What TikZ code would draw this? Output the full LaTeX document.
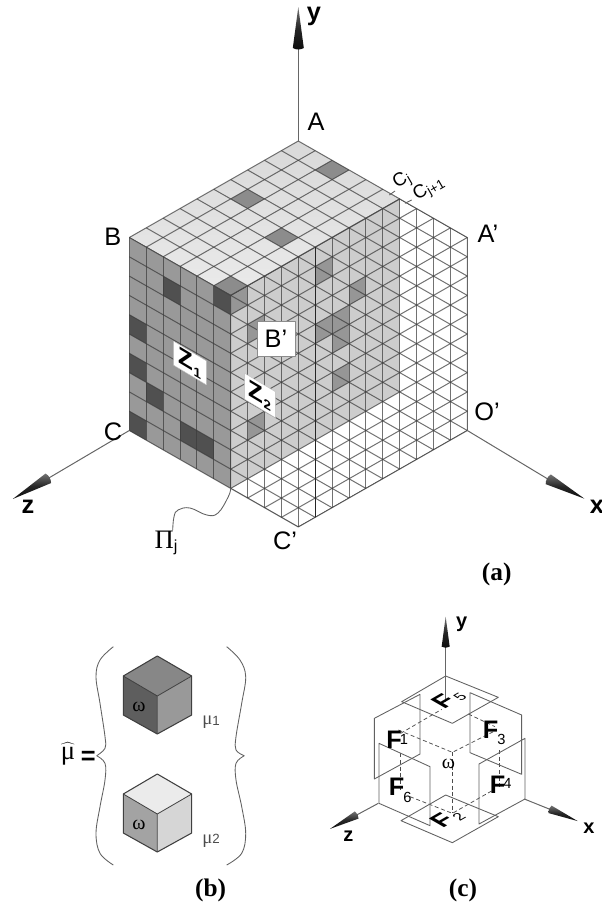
\documentclass[tikz,border=0pt]{standalone}
\usepackage{fontspec}
\setmainfont{Liberation Serif}
\setsansfont{Liberation Sans}
\definecolor{gridline}{HTML}{3C3C3C}
\definecolor{leftface}{HTML}{999999}
\definecolor{planeface}{HTML}{CDCDCD}
\definecolor{darkcell}{HTML}{505050}
\definecolor{midcell}{HTML}{8C8C8C}
\definecolor{platecell}{HTML}{969696}
\definecolor{axisline}{HTML}{666666}
\tikzset{
  needle/.pic={
    \shade[top color=black!55,bottom color=black!95,middle color=black!85]
      (0,-5.5) .. controls (-2,-2) and (-2,2) .. (0,5.5) -- (41,0) -- cycle;
  }
}

\begin{document}
\begin{tikzpicture}[
  x=0.75pt,
  y=-0.75pt,
  line join=round,
  mesh/.style={draw=gridline,draw opacity=0.72,line width=0.75pt},
  axis/.style={draw=axisline,line width=0.75pt},
  thin wire/.style={draw=black!62,line width=0.65pt},
  hidden/.style={draw=black!70,line width=0.55pt,densely dashed},
  lbl/.style={font=\fontsize{19}{22}\selectfont\sffamily},
  facelbl/.style={font=\fontsize{19}{22}\selectfont\sffamily\bfseries,inner sep=0pt},
  axislbl/.style={font=\fontsize{19}{22}\selectfont\sffamily\bfseries},
  tag/.style={font=\fontsize{19}{23}\selectfont\rmfamily\bfseries},
  sublbl/.style={font=\fontsize{11}{12}\selectfont\sffamily,inner sep=0pt},
  greek/.style={font=\fontsize{15}{16}\selectfont\rmfamily},
  onplate/.style={cm={0.87,0.5,-0.87,0.5,(0,0)},transform shape},
  skewbox/.style={fill=white,draw=black!25,line width=0.3pt,inner sep=0pt,yslant=-0.6,transform shape,
    font=\fontsize{18}{20}\selectfont\sffamily\bfseries}
]
  \useasboundingbox (0,0) rectangle (601,907);

  % Block (a): x along the back edge, y downwards, z towards the viewer.
  \begin{scope}[shift={(298.3,141)},x={(12.675pt,-7.2375pt)},y={(0pt,-14.475pt)},z={(-12.675pt,-7.2375pt)}]
    \coordinate (A) at (0,0,0);
    \coordinate (B) at (0,0,10);
    \coordinate (C) at (0,10,10);
    \coordinate (Bp) at (6,0,10);
    \coordinate (Cj) at (6,0,0);
    \coordinate (Ap) at (10,0,0);
    \coordinate (Op) at (10,10,0);
    \coordinate (Cp) at (10,10,10);
    \coordinate (Pj) at (6,10,10);
    \coordinate (Cb) at (6,10,0);

    % Top face.
    \shade[top color=black!15,bottom color=black!8] (A) -- (Cj) -- (Bp) -- (B) -- cycle;
    \foreach \i/\k in {2/0,1/4,4/5,5/9} {
      \fill[midcell] (\i,0,\k) -- ++(1,0,0) -- ++(0,0,1) -- ++(-1,0,0) -- cycle;
    }
    \foreach \i in {0,...,6} {
      \draw[mesh] (\i,0,0) -- (\i,0,10);
    }
    \foreach \k in {0,...,10} {
      \draw[mesh] (0,0,\k) -- (6,0,\k);
    }

    % Left face with its dark cells.
    \fill[leftface] (B) -- (Bp) -- (Pj) -- (C) -- cycle;
    \foreach \i/\d in {2/1,5/0,0/4,0/6,1/7,0/9,3/8,4/8} {
      \fill[darkcell] (\i,\d,10) -- ++(1,0,0) -- ++(0,1,0) -- ++(-1,0,0) -- cycle;
    }
    \foreach \i in {0,...,6} {
      \draw[mesh] (\i,0,10) -- (\i,10,10);
    }
    \foreach \d in {0,...,10} {
      \draw[mesh] (0,\d,10) -- (6,\d,10);
    }

    % Section plane.
    \fill[planeface] (Bp) -- (Cj) -- (Cb) -- (Pj) -- cycle;
    \foreach \k/\d in {9/0,4/1,2/3,4/4,3/4,3/5,8/2,3/7,8/7} {
      \fill[platecell] (6,\d,\k) -- ++(0,0,1) -- ++(0,1,0) -- ++(0,0,-1) -- cycle;
    }

    % Triangular mesh over plane and open part of the block.
    \begin{scope}
      \clip (Bp) -- (Cj) -- (Ap) -- (Op) -- (Cp) -- (Pj) -- cycle;
      \foreach \k in {0,...,20} {
        \draw[mesh] (-5,0,\k) -- (25,0,\k);
        \draw[mesh] (\k,0,-5) -- (\k,0,25);
      }
      \foreach \i in {6,...,20} {
        \draw[mesh] (\i,-20,10) -- (\i,30,10);
      }
    \end{scope}
    \draw[mesh] (Bp) -- (Cj) -- (Ap) -- (Op) -- (Cp) -- (Pj) -- cycle;
    \draw[draw=black!85,line width=1pt] (6,0,5) -- (6,14,5);
  \end{scope}

  % Axes of (a).
  \coordinate (ybase) at (298.3,48);
  \coordinate (zbase) at (48.3,478.3);
  \coordinate (xbase) at (548.3,479.3);
  \draw[axis] (A) -- (ybase);
  \draw[axis] (C) -- (zbase);
  \draw[axis] (Op) -- (xbase);
  \pic[rotate=90] at (ybase) {needle};
  \pic[rotate=210.2] at (zbase) {needle};
  \pic[rotate=-28.2] at (xbase) {needle};

  % Curve to the plane label and the c ticks.
  \draw[thin wire] plot[smooth,tension=0.7] coordinates
    {(Pj) (228.3,496.7) (218,513) (206.7,515) (190,508) (178,510) (174,516.7) (172.7,530)};
  \draw[thin wire] (389.3,195) -- (395,191);
  \draw[thin wire] (405,203.3) -- (411.7,200);

  % Labels of (a).
  \node[axislbl] (ylab) at (314,16) {y};
  \node[axislbl] (zlab) at (28,507) {z};
  \node[axislbl] (xlab) at (597,507) {x};
  \node[lbl] (Alab) at (316,122) {A};
  \node[lbl] (Blab) at (112.7,237) {B};
  \node[lbl] (Clab) at (113,431.5) {C};
  \node[lbl] (Aplab) at (488,234) {A'};
  \node[lbl] (Oplab) at (487,412) {O'};
  \node[lbl] (Cplab) at (285,541) {C'};
  \node[fill=white,draw=black!45,line width=0.5pt,lbl,minimum width=28.5pt,minimum height=26pt,inner sep=0pt] (Bplab) at (276,338.5) {B'};
  \node[skewbox,minimum width=24.5pt,minimum height=18pt] (Zone) at (190,363) {Z\raisebox{-3pt}{\fontsize{10}{10}\selectfont 1}};
  \node[skewbox,minimum width=23pt,minimum height=19.5pt] (Ztwo) at (260,395.5) {Z\raisebox{-3pt}{\fontsize{10}{10}\selectfont 2}};
  \node[font=\fontsize{20}{22}\selectfont\rmfamily] (Pilab) at (166,543) {Π\raisebox{-2pt}{\fontsize{12}{12}\selectfont\sffamily j}};
  \node[rotate=30,inner sep=0pt,font=\fontsize{14}{15}\selectfont\sffamily] (Cjlab) at (402,181) {C\raisebox{-2pt}{\fontsize{10}{10}\selectfont j}};
  \node[rotate=30,inner sep=0pt,font=\fontsize{14}{15}\selectfont\sffamily] (Cjjlab) at (429,189) {C\raisebox{-2pt}{\fontsize{10}{10}\selectfont j+1}};
  \node[tag] (taga) at (496.7,574) {(a)};

  % Panel (b): two small cubes in braces.
  \foreach \off/\ctop/\cleft/\cright/\idx in {0/black!47/black!63/black!40/1,118/black!8/black!36/black!16/2} {
    \begin{scope}[shift={(0,\off)}]
      \coordinate (ct) at (157.3,656);
      \coordinate (cl) at (123.3,676);
      \coordinate (cr) at (191.7,676);
      \coordinate (cm) at (157.3,696);
      \coordinate (cb) at (157.3,734);
      \coordinate (clb) at (123.3,715);
      \coordinate (crb) at (191.7,715);
      \fill[\ctop] (ct) -- (cr) -- (cm) -- (cl) -- cycle;
      \fill[\cleft] (cl) -- (cm) -- (cb) -- (clb) -- cycle;
      \fill[\cright] (cm) -- (cr) -- (crb) -- (cb) -- cycle;
      \draw[draw=black!75,line width=0.8pt] (ct) -- (cr) -- (crb) -- (cb) -- (clb) -- (cl) -- cycle;
      \draw[draw=black!75,line width=0.6pt] (cl) -- (cm) -- (cr) (cm) -- (cb);
      \node[greek] (omega\idx) at (139,706.7) {ω};
      \node[font=\fontsize{14}{15}\selectfont\rmfamily,text=black!70] (mu\idx) at (211,722.7) {μ\raisebox{-0.5pt}{\fontsize{10}{10}\selectfont\sffamily\idx}};
    \end{scope}
  }
  \draw[thin wire] plot[smooth,tension=0.6] coordinates
    {(113.3,646.7) (100,660) (96,676.7) (100,703.3) (105,736.7) (105,748.3) (96.7,755.7)};
  \draw[thin wire] plot[smooth,tension=0.6] coordinates
    {(96.7,755.7) (105,763.3) (105,780) (100,806.7) (96,833.3) (100,853.3) (113.3,865)};
  \draw[thin wire] plot[smooth,tension=0.6] coordinates
    {(226.7,646.7) (240,660) (245.7,676.7) (241.7,703.3) (236,736.7) (236,750) (244.3,755.7)};
  \draw[thin wire] plot[smooth,tension=0.6] coordinates
    {(244.3,755.7) (236,763.3) (236,780) (241.7,806.7) (245.7,833.3) (241.7,853.3) (226.7,865)};
  \node[inner sep=0pt,font=\fontsize{20}{22}\selectfont\rmfamily] (muhat) at (68,754) {$\widehat{\hbox{μ}}$};
  \node[inner sep=0pt,font=\fontsize{19}{22}\selectfont\sffamily\bfseries] (eqsign) at (88.3,758) {=};
  \node[tag] (tagb) at (210.7,890) {(b)};

  % Panel (c): numbers below are in 3x crop units.
  \begin{scope}[shift={(330,590)},x=0.25pt,y=-0.25pt]
    \coordinate (ym) at (347,170);
    \coordinate (yo) at (347,335);
    \coordinate (zm) at (80,675);
    \coordinate (zo) at (145,640);
    \coordinate (xm) at (660,658);
    \coordinate (xo) at (583,627);

    % Hidden cube edges.
    \draw[hidden] (212,430) -- (335,358);
    \draw[hidden] (415,372) -- (495,410);
    \draw[hidden] (205,420) -- (367,487) -- (490,425);
    \draw[hidden] (367,487) -- (367,670);
    \draw[hidden] (212,490) -- (212,600);
    \draw[hidden] (507,480) -- (507,590);
    \draw[hidden] (240,620) -- (367,670) -- (490,600);

    % Face plates.
    \draw[thin wire] (347,258) -- (505,322) -- (367,400) -- (215,335) -- cycle;
    \draw[thin wire] (347,615) -- (505,680) -- (367,758) -- (213,692) -- cycle;
    \draw[thin wire] (133,385) -- (270,313) -- (270,492) -- (133,567) -- cycle;
    \draw[thin wire] (147,460) -- (300,530) -- (300,707) -- (147,640) -- cycle;
    \draw[thin wire] (420,308) -- (575,375) -- (575,553) -- (420,488) -- cycle;
    \draw[thin wire] (447,522) -- (585,445) -- (585,627) -- (447,702) -- cycle;

    \draw[axis] (yo) -- (ym);
    \draw[axis] (zo) -- (zm);
    \draw[axis] (xo) -- (xm);
    \pic[rotate=90,scale=2.2] at (ym) {needle};
    \pic[rotate=207.5,scale=2.2] at (zm) {needle};
    \pic[rotate=-23,scale=2.2] at (xm) {needle};

    \node[facelbl] (Fone) at (192,450) {F};
    \node[sublbl] (Fonei) at (222,447) {1};
    \node[facelbl] (Fthree) at (482,420) {F};
    \node[sublbl] (Fthreei) at (514,448) {3};
    \node[facelbl] (Ffour) at (503,585) {F};
    \node[sublbl] (Ffouri) at (532,580) {4};
    \node[facelbl] (Fsix) at (200,590) {F};
    \node[sublbl] (Fsixi) at (232,622) {6};
    \node[facelbl,onplate] (Ffive) at (340,335) {F};
    \node[sublbl,onplate] (Ffivei) at (390,320) {5};
    \node[facelbl,onplate] (Ftwo) at (335,692) {F};
    \node[sublbl,onplate] (Ftwoi) at (387,680) {2};
    \node[greek] (omegac) at (355,522) {ω};
    \node[font=\fontsize{15}{18}\selectfont\sffamily\bfseries] (yclab) at (395,103) {y};
    \node[font=\fontsize{15}{18}\selectfont\sffamily\bfseries] (zclab) at (55,738) {z};
    \node[font=\fontsize{15}{18}\selectfont\sffamily\bfseries] (xclab) at (777,715) {x};
  \end{scope}
  \node[tag] (tagc) at (463,890) {(c)};
\end{tikzpicture}
\end{document}
